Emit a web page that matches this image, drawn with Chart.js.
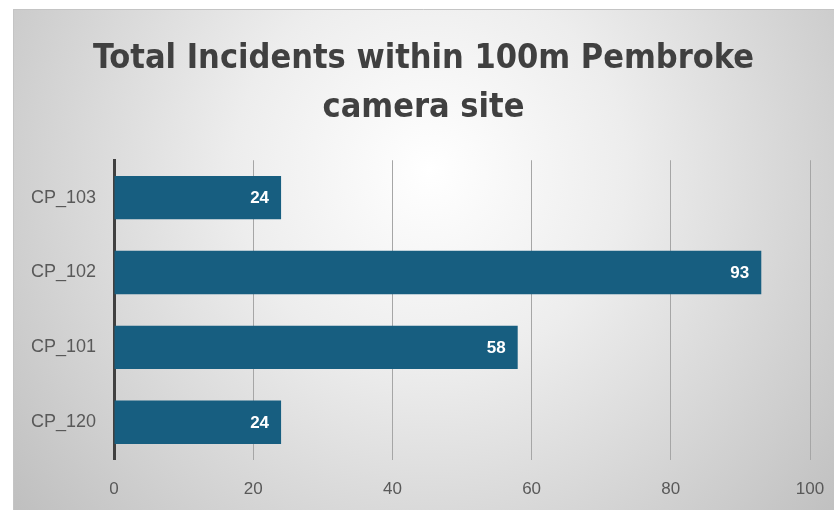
<!DOCTYPE html>
<html>
<head>
<meta charset="utf-8">
<script src="https://cdn.jsdelivr.net/npm/chart.js@4"></script>
<style>
  html, body { margin: 0; padding: 0; background: #ffffff; }
  #wrap { position: absolute; left: 0; top: 0; width: 834px; height: 510px; }
</style>
</head>
<body>
<div id="wrap"><canvas id="chart" width="834" height="510"></canvas></div>
<script>
// Data
const sites = ['CP_103', 'CP_102', 'CP_101', 'CP_120'];
const incidents = [24, 93, 58, 24];
const titleLines = ['Total Incidents within 100m Pembroke', 'camera site'];

// grey radial background inside the frame
const backdrop = {
    id: 'backdrop',
    beforeDraw(chart) {
        const ctx = chart.ctx;
        const x0 = 13, y0 = 9, w = chart.width - x0, h = chart.height - y0;
        ctx.save();
        const g = ctx.createRadialGradient(430, 170, 0, 430, 170, 560);
        g.addColorStop(0, '#ffffff');
        g.addColorStop(0.35, '#ededed');
        g.addColorStop(1, '#bcbcbc');
        ctx.fillStyle = g;
        ctx.fillRect(x0, y0, w, h);
        ctx.strokeStyle = '#c4c4c4';
        ctx.lineWidth = 1;
        ctx.beginPath();
        ctx.moveTo(x0 + 0.5, chart.height);
        ctx.lineTo(x0 + 0.5, y0 + 0.5);
        ctx.lineTo(chart.width, y0 + 0.5);
        ctx.stroke();
        ctx.restore();
    }
};

// value labels inside the bar ends
const barLabels = {
    id: 'barLabels',
    afterDatasetsDraw(chart) {
        const ctx = chart.ctx;
        const meta = chart.getDatasetMeta(0);
        ctx.save();
        ctx.fillStyle = '#ffffff';
        ctx.font = 'bold 17px "Liberation Sans", Arial, sans-serif';
        ctx.textAlign = 'right';
        ctx.textBaseline = 'middle';
        meta.data.forEach((bar, i) => {
            ctx.fillText(String(chart.data.datasets[0].data[i]), bar.x - 12, bar.y + 1);
        });
        ctx.restore();
    }
};

new Chart(document.getElementById('chart').getContext('2d'), {
    type: 'bar',
    data: {
        labels: sites,
        datasets: [{
            data: incidents,
            backgroundColor: '#175e80',
            borderWidth: 0,
            barPercentage: 0.58,
            categoryPercentage: 1
        }]
    },
    options: {
        indexAxis: 'y',
        responsive: false,
        animation: false,
        layout: { padding: { left: 13, right: 0, top: 0, bottom: -10 } },
        plugins: {
            legend: { display: false },
            tooltip: { enabled: false },
            title: {
                display: true,
                text: titleLines,
                color: '#404040',
                font: { family: '"Liberation Sans Narrow", "DejaVu Sans Condensed", sans-serif', size: 34, weight: 'bold', lineHeight: 1.43 },
                padding: { top: 35, bottom: 28 }
            }
        },
        scales: {
            x: {
                min: 0,
                max: 100,
                ticks: { stepSize: 20, color: '#595959', padding: 20, font: { family: '"Liberation Sans", Arial, sans-serif', size: 17 } },
                grid: { color: '#a6a6a6', lineWidth: 1, drawTicks: false },
                border: { display: false },
                // the tick padding would otherwise push the plot's right edge in
                afterFit: (scale) => { scale.paddingRight = 24; }
            },
            y: {
                ticks: { color: '#595959', padding: 18, font: { family: '"Liberation Sans", Arial, sans-serif', size: 18 } },
                grid: { display: false, drawTicks: false },
                border: { display: true, color: '#404040', width: 3 }
            }
        }
    },
    plugins: [backdrop, barLabels]
});
</script>
</body>
</html>
